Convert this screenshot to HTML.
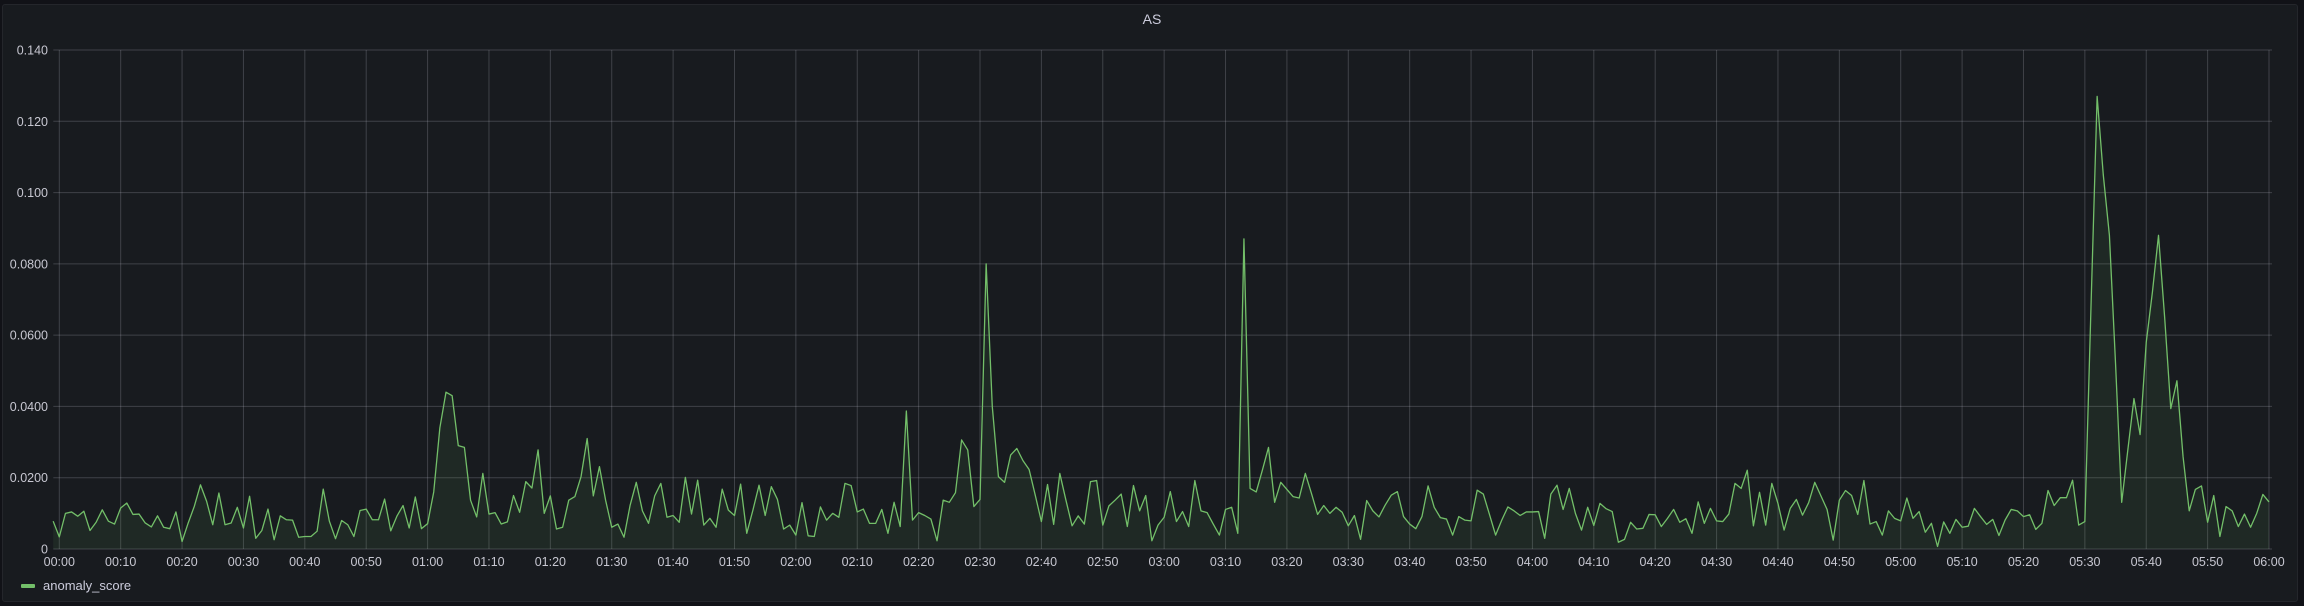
<!DOCTYPE html>
<html><head><meta charset="utf-8"><style>
html,body{margin:0;padding:0;background:#111217;}
body{width:2304px;height:606px;overflow:hidden;font-family:"Liberation Sans",sans-serif;}
#panel{position:absolute;left:2px;top:4px;width:2296px;height:598px;background:#181b1f;border:1px solid #24262b;border-radius:3px;box-sizing:border-box;}
svg text{font-family:"Liberation Sans",sans-serif;}
</style></head><body>
<div id="panel"></div>
<svg id="chart" width="2304" height="606" style="position:absolute;left:0;top:0">
<text x="1152" y="24" fill="#ccccdc" font-size="14" text-anchor="middle">AS</text>
<g id="grid"></g>
<g id="axes"></g>
<g id="series"></g>
<g>
<rect x="21" y="584" width="14" height="4" rx="1" fill="#73bf69"></rect>
<text x="43" y="590" fill="#ccccdc" font-size="13">anomaly_score</text>
</g>
</svg>
<script>
const yTicks=[0,0.02,0.04,0.06,0.08,0.10,0.12,0.14];
const yTickLabels=["0","0.0200","0.0400","0.0600","0.0800","0.100","0.120","0.140"];
const xTickMinutes=[0,10,20,30,40,50,60,70,80,90,100,110,120,130,140,150,160,170,180,190,200,210,220,230,240,250,260,270,280,290,300,310,320,330,340,350,360];
const xTickLabels=["00:00","00:10","00:20","00:30","00:40","00:50","01:00","01:10","01:20","01:30","01:40","01:50","02:00","02:10","02:20","02:30","02:40","02:50","03:00","03:10","03:20","03:30","03:40","03:50","04:00","04:10","04:20","04:30","04:40","04:50","05:00","05:10","05:20","05:30","05:40","05:50","06:00"];
const startMinute=-1;
const values=[
0.0078,0.0034,0.010,0.0104,0.0092,0.0106,0.0052,0.0075,0.011,0.0078,0.007,0.0115,0.0129,0.0097,0.0098,0.0073,0.0062,0.0093,0.0061,0.0057,
0.0104,0.0021,0.0073,0.012,0.018,0.0134,0.0068,0.0157,0.0068,0.0073,0.0117,0.0059,0.0148,0.003,0.0052,0.0112,0.0026,0.0093,0.0082,0.0081,
0.0033,0.0035,0.0035,0.005,0.0168,0.0078,0.0029,0.008,0.0068,0.0035,0.0108,0.0112,0.0082,0.0082,0.014,0.0051,0.0092,0.0122,0.0059,0.0146,
0.0057,0.0071,
0.016,0.034,0.044,0.043,0.029,0.0285,0.0137,0.009,0.0212,0.0098,0.0102,0.007,0.0076,0.015,0.0103,0.0189,0.0171,0.0278,0.010,0.0149,
0.0056,0.0061,0.0137,0.0147,0.0203,0.031,0.0149,0.0231,0.0137,0.0061,0.007,0.0033,0.0123,0.0187,0.0107,0.0072,0.0149,0.0184,0.0089,0.0094,
0.0075,0.0201,0.0098,0.0193,0.0067,0.0086,0.0061,0.0168,0.0109,0.0094,0.0182,0.0044,0.0109,0.0179,0.0094,0.0175,0.0139,0.0056,0.0067,0.0039,
0.013,0.0037,0.0035,0.0118,0.0081,0.010,0.0089,0.0184,0.0178,0.0104,0.0112,0.0072,0.0072,0.0111,0.0044,0.0131,0.0063,0.0387,0.0081,0.0102,
0.0094,0.0084,0.0023,0.0137,0.0131,0.0158,0.0306,0.0278,0.0119,0.0139,0.080,0.040,0.0203,0.0187,0.0264,0.0282,0.0248,0.0223,0.0151,0.0077,
0.0181,0.0069,0.0212,0.0137,0.0065,0.0093,0.007,0.0189,0.0192,0.0067,0.0121,0.0137,0.0154,0.0063,0.0178,0.0107,0.015,0.0023,0.0067,0.0089,
0.0161,0.0077,0.0105,0.0063,0.0192,0.0107,0.0102,0.007,0.0039,0.0111,0.0117,0.0044,0.087,0.017,0.016,0.0221,0.0285,0.0131,0.0187,0.0167,
0.0147,0.0143,0.0212,0.0156,0.0097,0.0122,0.010,0.0117,0.0103,0.0065,0.0094,0.0027,0.0136,0.0107,0.009,0.0123,0.0151,0.0161,0.0091,0.007,
0.0057,0.0091,0.0177,0.0117,0.0088,0.0084,0.0039,0.0091,0.0081,0.0079,0.0165,0.0154,0.0097,0.0039,0.0081,0.0118,0.0107,0.0094,0.0104,0.0104,
0.0105,0.003,0.0154,0.0179,0.0111,0.017,0.010,0.0053,0.0117,0.0066,0.0128,0.0113,0.0105,0.0019,0.0027,0.0075,0.0056,0.0058,0.0097,0.0096,
0.0063,0.0086,0.0111,0.0075,0.0085,0.0044,0.0132,0.0072,0.0114,0.0079,0.0077,0.0098,0.0184,0.017,0.0221,0.0065,0.0159,0.0067,0.0184,0.0128,
0.0053,0.0114,0.0139,0.0095,0.013,0.0187,0.0149,0.0111,0.0025,0.0137,0.0164,0.015,0.0097,0.0192,0.007,0.0077,0.0039,0.0107,0.0086,0.0079,
0.0143,0.0086,0.0105,0.0047,0.0072,0.0007,0.0076,0.0044,0.0083,0.0061,0.0064,0.0114,0.0091,0.0069,0.0083,0.0038,0.0081,0.0111,0.0107,0.0091,
0.0096,0.0055,0.0072,0.0164,0.0122,0.0144,0.0144,0.0193,0.0067,0.0077,0.068,0.127,0.105,0.088,0.052,0.0131,0.0278,0.0422,0.0321,0.058,
0.072,0.088,0.065,0.0394,0.0472,0.0259,0.0107,0.0167,0.0177,0.0075,0.015,0.0035,0.0119,0.0107,0.0063,0.0098,0.0061,0.010,0.0153,0.0132
];
const X0=59.3,X1=2269,Y0=549,Y1=50;
function xs(m){return X0+(m/360)*(X1-X0);}
function ys(v){return Y0-(v/0.14)*(Y0-Y1);}
const NS="http://www.w3.org/2000/svg";
const grid=document.getElementById('grid'),axes=document.getElementById('axes'),series=document.getElementById('series');
yTicks.forEach((t,i)=>{
  const y=ys(t);
  const l=document.createElementNS(NS,'line');
  l.setAttribute('x1',X0-6);l.setAttribute('x2',X1+3);l.setAttribute('y1',y);l.setAttribute('y2',y);
  l.setAttribute('stroke','rgba(204,204,220,0.22)');l.setAttribute('stroke-width','1');
  
  
  grid.appendChild(l);
  const tx=document.createElementNS(NS,'text');
  tx.setAttribute('x',48);tx.setAttribute('y',y+4.5);tx.setAttribute('text-anchor','end');
  tx.setAttribute('fill','#c7c7d1');tx.setAttribute('font-size','12.5');
  tx.textContent=yTickLabels[i];
  
  
  axes.appendChild(tx);
});
xTickMinutes.forEach((m,i)=>{
  const x=xs(m);
  const l=document.createElementNS(NS,'line');
  l.setAttribute('x1',x);l.setAttribute('x2',x);l.setAttribute('y1',Y1);l.setAttribute('y2',Y0);
  l.setAttribute('stroke','rgba(204,204,220,0.22)');l.setAttribute('stroke-width','1');
  
  
  grid.appendChild(l);
  const tx=document.createElementNS(NS,'text');
  tx.setAttribute('x',x);tx.setAttribute('y',566);tx.setAttribute('text-anchor','middle');
  tx.setAttribute('fill','#c7c7d1');tx.setAttribute('font-size','12.5');
  tx.textContent=xTickLabels[i];
  
  
  axes.appendChild(tx);
});
let pts=values.map((v,i)=>xs(startMinute+i).toFixed(2)+','+ys(v).toFixed(2));
const area=document.createElementNS(NS,'path');
area.setAttribute('d','M'+xs(startMinute)+','+Y0+' L'+pts.join(' L')+' L'+xs(startMinute+values.length-1)+','+Y0+' Z');
area.setAttribute('fill','rgba(115,191,105,0.09)');


series.appendChild(area);
const line=document.createElementNS(NS,'polyline');
line.setAttribute('points',pts.join(' '));
line.setAttribute('fill','none');line.setAttribute('stroke','#73bf69');line.setAttribute('stroke-width','1.3');line.setAttribute('stroke-linejoin','round');


series.appendChild(line);
</script>
</body></html>
